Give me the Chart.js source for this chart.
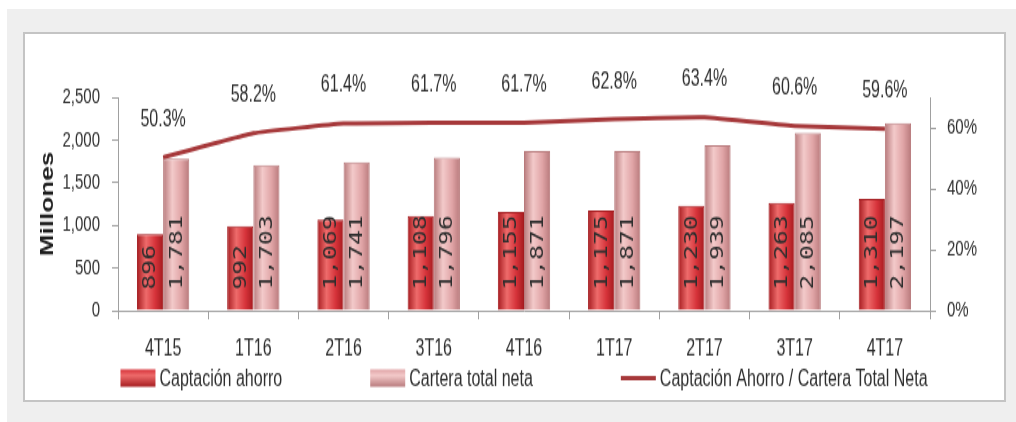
<!DOCTYPE html>
<html>
<head>
<meta charset="utf-8">
<script src="https://cdn.jsdelivr.net/npm/chart.js@4"></script>
<style>
  body { margin: 0; width: 1016px; height: 422px; overflow: hidden; position: relative; background: #fff; }
  #outer { position: absolute; left: 7px; top: 9px; width: 1009px; height: 413px; background: #efefef; }
  #panel { position: absolute; left: 23px; top: 32px; width: 983px; height: 370px; background: #fff; border: 2px solid #c4c4c4; box-sizing: border-box; }
  /* the source picture is stretched vertically, so the canvas is too */
  #wrap { position: absolute; left: 23px; top: 32px; width: 983px; height: 255px; transform: scaleY(1.451); transform-origin: 0 0; }
</style>
</head>
<body>
<div id="outer"></div>
<div id="panel"></div>
<div id="wrap"><canvas id="chart" width="983" height="255"></canvas></div>
<script>
const categories = ['4T15', '1T16', '2T16', '3T16', '4T16', '1T17', '2T17', '3T17', '4T17'];
const captacion = [896, 992, 1069, 1108, 1155, 1175, 1230, 1263, 1310];
const cartera = [1781, 1703, 1741, 1796, 1871, 1871, 1939, 2085, 2197];
const ratio = [50.3, 58.2, 61.4, 61.7, 61.7, 62.8, 63.4, 60.6, 59.6];
const seriesNames = ['Captación ahorro', 'Cartera total neta', 'Captación Ahorro / Cartera Total Neta'];
const leftMax = 2500, leftStep = 500;
const rightMax = 70, rightStep = 20;

const TXT = "'Liberation Sans', Arial, sans-serif";
const MONO = "'DejaVu Sans Mono', 'Liberation Mono', monospace";
const TEXT_COLOR = '#2e2e2e';
const AXIS_COLOR = '#a0a0a0';
const LINE_COLOR = '#a6383a';
const RED = { light: '#ee6b6b', mid: '#d6333a', dark: '#a51b1f' };
const PINK = { light: '#f3caca', mid: '#e0a4a6', dark: '#b87a7c' };
const CAT_PCT = 0.58;

// horizontal "cylinder" gradient for each bar, placed with the x scale
function barFill(col, side) {
  return (c) => {
    const chart = c.chart;
    const x = chart.scales.x;
    if (!x || c.type !== 'data' || !x.width) return col.mid;
    const center = x.getPixelForValue(c.dataIndex);
    const half = x.width / categories.length * CAT_PCT / 2;
    const x0 = side < 0 ? center - half : center;
    const g = chart.ctx.createLinearGradient(x0, 0, x0 + half, 0);
    g.addColorStop(0, col.dark);
    g.addColorStop(0.35, col.light);
    g.addColorStop(0.7, col.mid);
    g.addColorStop(1, col.dark);
    return g;
  };
}

const valueLabels = {
  id: 'valueLabels',
  afterDatasetsDraw(chart) {
    const ctx = chart.ctx;
    ctx.save();
    ctx.fillStyle = TEXT_COLOR;
    [0, 1].forEach(di => {
      chart.getDatasetMeta(di).data.forEach((bar, i) => {
        const v = chart.data.datasets[di].data[i];
        ctx.save();
        ctx.translate(bar.x, bar.base - 14);
        ctx.rotate(-Math.PI / 2);
        ctx.font = '17px ' + MONO;
        ctx.textAlign = 'left';
        ctx.textBaseline = 'middle';
        ctx.fillText(v.toLocaleString('en-US'), 0, 1);
        ctx.restore();
      });
    });
    ctx.font = '16px ' + TXT;
    ctx.textAlign = 'center';
    ctx.textBaseline = 'middle';
    chart.getDatasetMeta(2).data.forEach((pt, i) => {
      ctx.fillText(ratio[i].toFixed(1) + '%', pt.x, pt.y - 26);
    });
    ctx.restore();
  }
};

// legend drawn by hand: items are spread much wider than the built-in legend allows
const bottomLegend = {
  id: 'bottomLegend',
  afterDraw(chart) {
    const ctx = chart.ctx;
    const area = chart.chartArea;
    const y = chart.height - 16.5;
    const boxW = 35, boxH = 12, gap = 4, spacing = 88;
    ctx.save();
    ctx.font = '16px ' + TXT;
    const widths = seriesNames.map(n => boxW + gap + ctx.measureText(n).width);
    const total = widths.reduce((a, b) => a + b, 0) + spacing * (widths.length - 1);
    let x = (area.left + area.right) / 2 - total / 2;
    seriesNames.forEach((name, i) => {
      if (i < 2) {
        const col = i === 0 ? RED : PINK;
        const g = ctx.createLinearGradient(0, y - boxH / 2, 0, y + boxH / 2);
        g.addColorStop(0, col.mid);
        g.addColorStop(0.35, col.light);
        g.addColorStop(1, col.dark);
        ctx.fillStyle = g;
        ctx.fillRect(x, y - boxH / 2, boxW, boxH);
      } else {
        ctx.strokeStyle = LINE_COLOR;
        ctx.lineWidth = 3;
        ctx.beginPath();
        ctx.moveTo(x, y);
        ctx.lineTo(x + boxW, y);
        ctx.stroke();
      }
      ctx.fillStyle = TEXT_COLOR;
      ctx.textAlign = 'left';
      ctx.textBaseline = 'middle';
      ctx.fillText(name, x + boxW + gap, y + 1);
      x += widths[i] + spacing;
    });
    ctx.restore();
  }
};

new Chart(document.getElementById('chart'), {
  type: 'bar',
  data: {
    labels: categories,
    datasets: [
      {
        label: seriesNames[0],
        data: captacion,
        backgroundColor: barFill(RED, -1),
        borderColor: RED.dark,
        borderWidth: 1,
        order: 1
      },
      {
        label: seriesNames[1],
        data: cartera,
        backgroundColor: barFill(PINK, 1),
        borderColor: PINK.dark,
        borderWidth: 1,
        order: 1
      },
      {
        type: 'line',
        label: seriesNames[2],
        data: ratio,
        yAxisID: 'y1',
        borderColor: LINE_COLOR,
        borderWidth: 3,
        pointRadius: 0,
        tension: 0.1,
        order: 0
      }
    ]
  },
  options: {
    responsive: false,
    animation: false,
    layout: { padding: { top: 45, bottom: 25, left: 0, right: 0 } },
    datasets: { bar: { categoryPercentage: CAT_PCT, barPercentage: 1 } },
    plugins: { legend: { display: false }, tooltip: { enabled: false } },
    scales: {
      x: {
        grid: { drawOnChartArea: false, tickLength: 6, color: AXIS_COLOR },
        border: { color: AXIS_COLOR },
        ticks: { font: { family: TXT, size: 16 }, color: TEXT_COLOR, padding: 11, maxRotation: 0 },
        afterFit(s) { s.height = 38; }
      },
      y: {
        min: 0,
        max: leftMax,
        ticks: {
          stepSize: leftStep,
          font: { family: TXT, size: 15 },
          color: TEXT_COLOR,
          padding: 12,
          callback: v => v.toLocaleString('en-US')
        },
        grid: { drawOnChartArea: false, tickLength: 6, color: AXIS_COLOR },
        border: { color: AXIS_COLOR },
        title: {
          display: true,
          text: 'Millones',
          font: { family: "'Liberation Sans', sans-serif", size: 18, weight: 'bold' },
          color: '#1e1e1e',
          padding: { top: 14, bottom: 0 }
        },
        afterFit(s) { s.width = 95; }
      },
      y1: {
        position: 'right',
        min: 0,
        max: rightMax,
        ticks: {
          stepSize: rightStep,
          includeBounds: false,
          font: { family: TXT, size: 15 },
          color: TEXT_COLOR,
          padding: 11,
          callback: v => v + '%'
        },
        grid: { drawOnChartArea: false, tickLength: 6, color: AXIS_COLOR },
        border: { color: AXIS_COLOR },
        afterFit(s) { s.width = 76; }
      }
    }
  },
  plugins: [valueLabels, bottomLegend]
});
</script>
</body>
</html>
